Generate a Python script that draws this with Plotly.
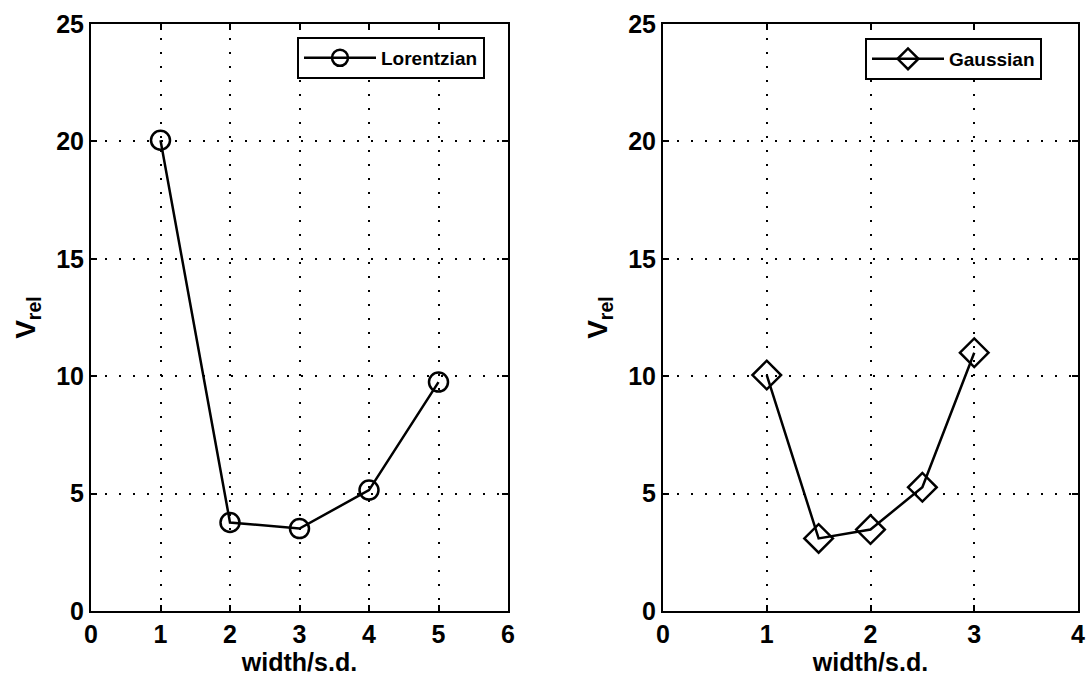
import plotly.graph_objects as go

# Data
lor_width = [1, 2, 3, 4, 5]
lor_vrel = [20.05, 3.77, 3.51, 5.15, 9.75]
gau_width = [1, 1.5, 2, 2.5, 3]
gau_vrel = [10.05, 3.09, 3.47, 5.27, 11.0]
y_ticks = [0, 5, 10, 15, 20, 25]
x_ticks_left = [0, 1, 2, 3, 4, 5, 6]
x_ticks_right = [0, 1, 2, 3, 4]

FONT = "Liberation Sans, Arial, Helvetica, sans-serif"

W, H = 1086, 687


def px_x(p):
    return p / W


def px_y(p):
    return 1 - p / H


fig = go.Figure()
fig.add_trace(go.Scatter(
    x=lor_width, y=lor_vrel, mode="lines+markers", name="Lorentzian",
    line=dict(color="black", width=2.5),
    marker=dict(symbol="circle-open", size=19, color="black", line=dict(width=2.5)),
    xaxis="x", yaxis="y", legend="legend"))
fig.add_trace(go.Scatter(
    x=gau_width, y=gau_vrel, mode="lines+markers", name="Gaussian",
    line=dict(color="black", width=2.5),
    marker=dict(symbol="diamond-open", size=22, color="black", line=dict(width=2.5)),
    xaxis="x2", yaxis="y2", legend="legend2"))

axis_common = dict(
    showline=True, linecolor="black", linewidth=2, mirror="ticks",
    ticks="inside", ticklen=6, tickwidth=1.5, tickcolor="black",
    showgrid=True, gridcolor="black", gridwidth=1.8, griddash="2px,12px",
    zeroline=False, automargin=False,
    tickfont=dict(family=FONT, size=25, color="black", weight="bold"),
)

ydom = [px_y(611), px_y(24)]
title_font_x = dict(family=FONT, size=25, color="black", weight="bold")
title_font_y = dict(family=FONT, size=28, color="black", weight="bold")
legend_font = dict(family=FONT, size=19, color="black", weight="bold")

fig.update_layout(
    width=W, height=H,
    margin=dict(l=0, r=0, t=0, b=0, autoexpand=False),
    paper_bgcolor="white", plot_bgcolor="white",
    xaxis=dict(axis_common, domain=[px_x(91), px_x(508)], range=[0, 6],
               tickvals=x_ticks_left, anchor="y",
               title=dict(text="width/s.d.", standoff=6, font=title_font_x)),
    yaxis=dict(axis_common, domain=ydom, range=[0, 25],
               tickvals=y_ticks, anchor="x",
               title=dict(text="V<sub>rel</sub>", standoff=12, font=title_font_y)),
    xaxis2=dict(axis_common, domain=[px_x(663), px_x(1078)], range=[0, 4],
                tickvals=x_ticks_right, anchor="y2",
                title=dict(text="width/s.d.", standoff=6, font=title_font_x)),
    yaxis2=dict(axis_common, domain=ydom, range=[0, 25],
                tickvals=y_ticks, anchor="x2",
                title=dict(text="V<sub>rel</sub>", standoff=12, font=title_font_y)),
    legend=dict(x=px_x(485), y=px_y(37), xanchor="right", yanchor="top",
                bgcolor="white", bordercolor="black", borderwidth=2,
                font=legend_font, itemwidth=72),
    legend2=dict(x=px_x(1042), y=px_y(38), xanchor="right", yanchor="top",
                 bgcolor="white", bordercolor="black", borderwidth=2,
                 font=legend_font, itemwidth=72),
    showlegend=True,
)

fig.write_html("out.html",
               config={"displayModeBar": False},
               post_script="document.body.style.margin='0';document.body.style.overflow='hidden';")
